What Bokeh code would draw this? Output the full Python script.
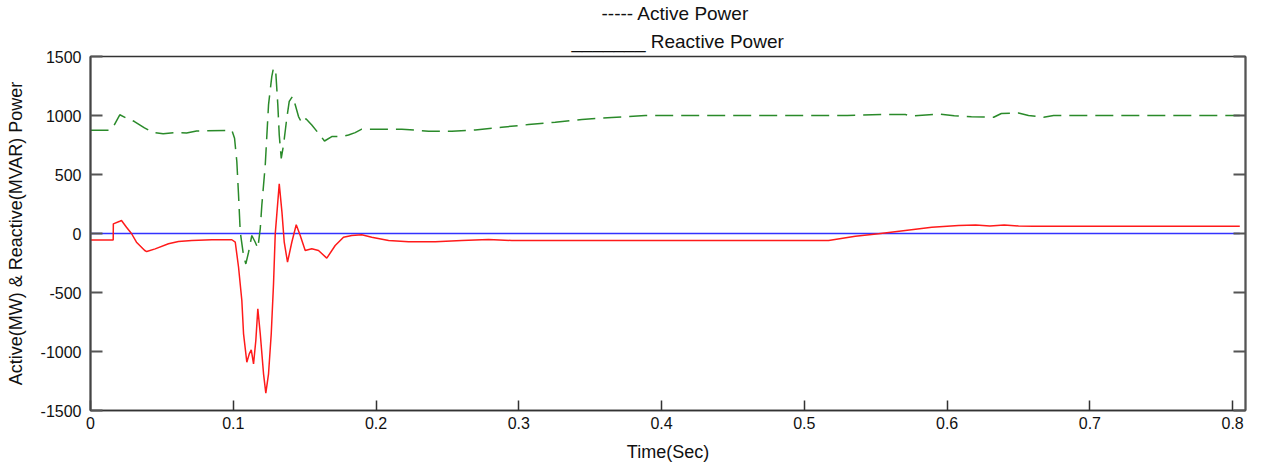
from bokeh.plotting import figure
from bokeh.models import Range1d, LinearAxis, FixedTicker, Title
from bokeh.embed import file_html
from bokeh.resources import INLINE

# Active power (MW) vs time (s)
t_active = [0, 0.0133, 0.0163, 0.0205, 0.0252, 0.0308, 0.0378, 0.0439, 0.0509, 0.0602,
            0.0673, 0.0743, 0.099, 0.1009, 0.1025, 0.1037, 0.1049, 0.1072, 0.1088, 0.1107,
            0.113, 0.1154, 0.1172, 0.1189, 0.12, 0.1224, 0.1247, 0.127, 0.1282, 0.1298,
            0.1312, 0.1322, 0.1336, 0.1352, 0.1375, 0.1392, 0.1415, 0.1434, 0.1457, 0.1481,
            0.1509, 0.155, 0.1597, 0.1639, 0.169, 0.176, 0.1807, 0.1854, 0.19, 0.2181,
            0.2368, 0.2531, 0.2695, 0.2881, 0.3068, 0.3255, 0.3442, 0.3652, 0.3886, 0.53,
            0.5555, 0.5707, 0.575, 0.594, 0.605, 0.617, 0.6326, 0.638, 0.650, 0.657,
            0.6676, 0.6746, 0.805]
p_active = [875, 875, 912, 1006, 978, 949, 895, 855, 846, 855,
            852, 869, 875, 807, 608, 324, 11, -187, -258, -159,
            -17, -74, -125, 40, 239, 580, 1091, 1332, 1404, 1361,
            1091, 835, 637, 750, 978, 1119, 1162, 1091, 991, 935,
            972, 920, 849, 784, 821, 821, 835, 855, 884, 884,
            867, 867, 878, 901, 923, 943, 966, 983, 1000, 1000,
            1010, 1008, 995, 1012, 998, 990, 985, 1017, 1022, 1000,
            985, 1000, 1000]

# Reactive power (MVAR) vs time (s)
t_reactive = [0, 0.0159, 0.016, 0.0205, 0.0217, 0.0252, 0.0287, 0.0322, 0.038, 0.0394,
              0.0453, 0.0546, 0.0616, 0.071, 0.085, 0.099, 0.1014, 0.1037, 0.106, 0.1072,
              0.1095, 0.1112, 0.1126, 0.1142, 0.1158, 0.1172, 0.1189, 0.1212, 0.1228, 0.1247,
              0.1266, 0.1282, 0.1294, 0.1322, 0.1341, 0.1357, 0.138, 0.141, 0.1441, 0.1469,
              0.1504, 0.155, 0.1597, 0.1655, 0.1714, 0.1772, 0.183, 0.19, 0.197, 0.2088,
              0.2228, 0.2415, 0.2601, 0.2788, 0.2951, 0.517, 0.5357, 0.552, 0.5707, 0.5893,
              0.608, 0.62, 0.63, 0.64, 0.65, 0.66, 0.805]
q_reactive = [-55, -55, 82, 104, 110, 53, 0, -74, -144, -153,
              -130, -87, -68, -59, -53, -53, -74, -286, -568, -850,
              -1091, -1020, -986, -1105, -907, -638, -850, -1189, -1353, -1189,
              -850, -426, -3, 421, 181, -74, -243, -74, 74, -17,
              -144, -130, -144, -209, -102, -31, -17, -11, -31, -59,
              -70, -70, -59, -51, -59, -59, -23, -3, 25, 53,
              68, 72, 64, 72, 64, 62, 62]

# zero reference
t_ref = [0.0, 0.805]
q_ref = [0, 0]

x_ticks = [0, 0.1, 0.2, 0.3, 0.4, 0.5, 0.6, 0.7, 0.8]
x_tick_labels = ["0", "0.1", "0.2", "0.3", "0.4", "0.5", "0.6", "0.7", "0.8"]
y_ticks = [-1500, -1000, -500, 0, 500, 1000, 1500]
y_tick_labels = ["-1500", "-1000", "-500", "0", "500", "1000", "1500"]

FONT = "Liberation Sans"

p = figure(width=1260, height=464, x_range=Range1d(0, 0.809), y_range=Range1d(-1500, 1500),
           output_backend="svg", toolbar_location=None,
           min_border_left=90, min_border_right=15, min_border_top=55, min_border_bottom=50)
p.xgrid.visible = False
p.ygrid.visible = False
p.outline_line_color = "#333333"
p.outline_line_width = 1.5
p.background_fill_color = "white"
p.border_fill_color = "white"

p.line(t_ref, q_ref, line_color="#3333ff", line_width=1.5)
p.line(t_reactive, q_reactive, line_color="#ff1a1a", line_width=1.5)
p.line(t_active, p_active, line_color="#2a8a2a", line_width=1.5, line_dash="18 8")

# axes
xa = p.xaxis[0]
xa.ticker = FixedTicker(ticks=x_ticks)
xa.major_label_overrides = {float(k): v for k, v in zip(x_ticks, x_tick_labels)}
xa.major_tick_in = 10
xa.major_tick_out = 0
xa.minor_tick_in = 0
xa.minor_tick_out = 0
xa.axis_line_color = "#333333"
xa.axis_line_width = 1.5
xa.major_tick_line_color = "#333333"
xa.major_tick_line_width = 1.5
xa.major_label_standoff = 6
xa.major_label_text_font = FONT
xa.major_label_text_font_size = "16px"
xa.major_label_text_color = "#111111"
xa.axis_label = "Time(Sec)"
xa.axis_label_text_font = FONT
xa.axis_label_text_font_size = "18px"
xa.axis_label_text_font_style = "normal"
xa.axis_label_text_color = "#111111"
xa.axis_label_standoff = 10

ya = p.yaxis[0]
ya.ticker = FixedTicker(ticks=y_ticks)
ya.major_label_overrides = {k: v for k, v in zip(y_ticks, y_tick_labels)}
ya.major_tick_in = 12
ya.major_tick_out = 0
ya.minor_tick_in = 0
ya.minor_tick_out = 0
ya.axis_line_color = "#444444"
ya.axis_line_width = 2
ya.major_tick_line_color = "#555555"
ya.major_tick_line_width = 2
ya.major_label_standoff = 9
ya.major_label_text_font = FONT
ya.major_label_text_font_size = "16px"
ya.major_label_text_color = "#111111"
ya.axis_label = "Active(MW) & Reactive(MVAR) Power"
ya.axis_label_text_font = FONT
ya.axis_label_text_font_size = "18px"
ya.axis_label_text_font_style = "normal"
ya.axis_label_text_color = "#111111"
ya.axis_label_standoff = 12

ra = LinearAxis(ticker=FixedTicker(ticks=y_ticks), major_tick_in=12, major_tick_out=0,
                minor_tick_in=0, minor_tick_out=0, major_label_text_font_size="0px",
                major_label_text_color=None, axis_line_color="#555555", axis_line_width=2,
                major_tick_line_color="#555555", major_tick_line_width=2)
p.add_layout(ra, "right")

# legend-like text lines above the plot
p.add_layout(Title(text="_______ Reactive Power", align="left", offset=481, standoff=10,
                   text_font=FONT, text_font_size="19px", text_font_style="normal",
                   text_color="#111111"), "above")
p.add_layout(Title(text="----- Active Power", align="left", offset=511, standoff=0,
                   text_font=FONT, text_font_size="19px", text_font_style="normal",
                   text_color="#111111"), "above")

open("out.html", "w").write(file_html(p, INLINE))
